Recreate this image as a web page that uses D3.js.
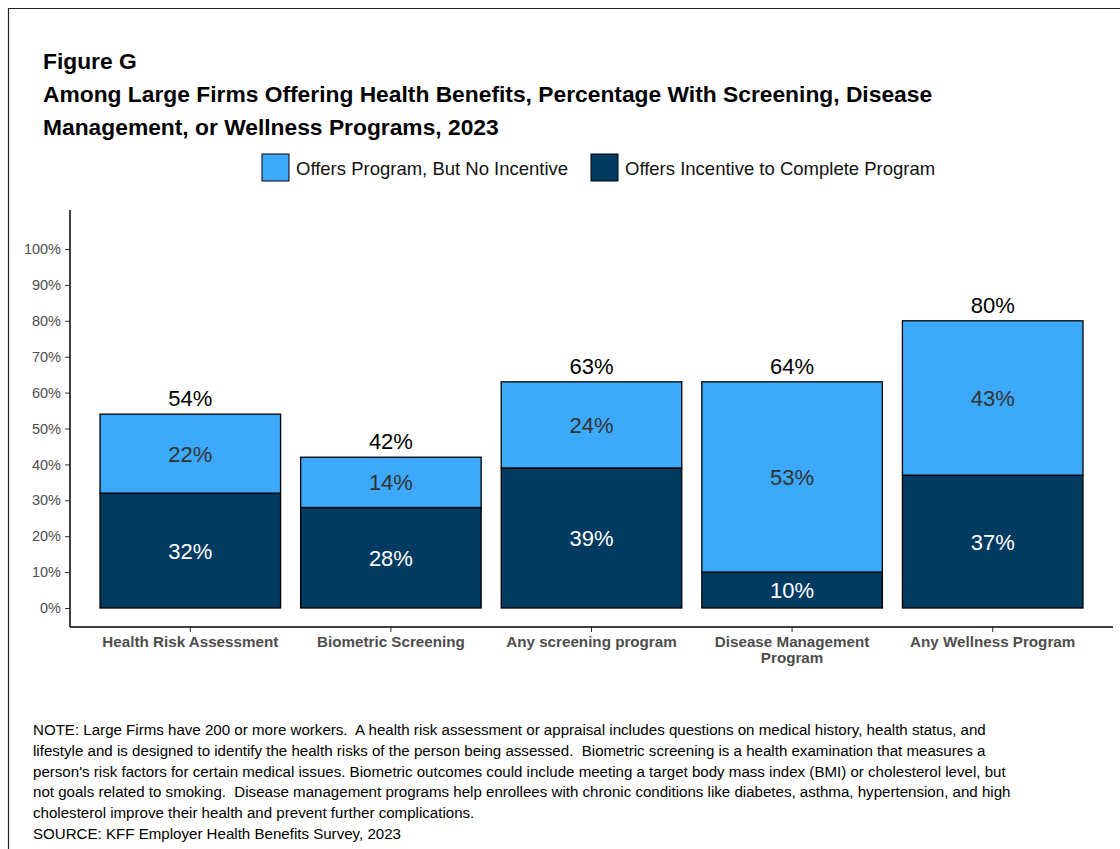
<!DOCTYPE html>
<html>
<head>
<meta charset="utf-8">
<script src="https://cdn.jsdelivr.net/npm/d3@7"></script>
<style>
  body { margin: 0; background: #fff; }
  text { font-family: Arial, "Liberation Sans", sans-serif; white-space: pre; }
</style>
</head>
<body>
<div id="chart"></div>
<script>
var categories = ["Health Risk Assessment", "Biometric Screening", "Any screening program", "Disease Management Program", "Any Wellness Program"];
var incentive = [32, 28, 39, 10, 37];
var noIncentive = [22, 14, 24, 53, 43];
var totals = [54, 42, 63, 64, 80];
var seriesNames = ["Offers Program, But No Incentive", "Offers Incentive to Complete Program"];
var yTicks = [0, 10, 20, 30, 40, 50, 60, 70, 80, 90, 100];

var titleLines = ["Figure G",
    "Among Large Firms Offering Health Benefits, Percentage With Screening, Disease",
    "Management, or Wellness Programs, 2023"];
var noteLines = [
    "NOTE: Large Firms have 200 or more workers.  A health risk assessment or appraisal includes questions on medical history, health status, and",
    "lifestyle and is designed to identify the health risks of the person being assessed.  Biometric screening is a health examination that measures a",
    "person's risk factors for certain medical issues. Biometric outcomes could include meeting a target body mass index (BMI) or cholesterol level, but",
    "not goals related to smoking.  Disease management programs help enrollees with chronic conditions like diabetes, asthma, hypertension, and high",
    "cholesterol improve their health and prevent further complications.",
    "SOURCE: KFF Employer Health Benefits Survey, 2023"];

var lightBlue = "#3ca9fb",
    darkBlue = "#023b62";

var width = 1120, height = 849;

var svg = d3.select("#chart").append("svg")
    .attr("width", width)
    .attr("height", height);

// frame
svg.append("path")
    .attr("d", "M8.5," + height + "V8.5H" + width)
    .attr("fill", "none")
    .attr("stroke", "#222")
    .attr("stroke-width", 1.2);

// title
svg.append("g").selectAll("text")
    .data(titleLines)
    .join("text")
    .attr("x", 43)
    .attr("y", function(d, i) { return 69 + i * 33; })
    .attr("font-size", 22.8)
    .attr("font-weight", "bold")
    .attr("fill", "#000")
    .text(function(d) { return d; });

// legend
var legendX = [262, 591];
var legend = svg.append("g").selectAll("g")
    .data(seriesNames)
    .join("g")
    .attr("transform", function(d, i) { return "translate(" + legendX[i] + ",154)"; });
legend.append("rect")
    .attr("width", 27).attr("height", 27)
    .attr("fill", function(d, i) { return i == 0 ? lightBlue : darkBlue; })
    .attr("stroke", "#000").attr("stroke-width", 1);
legend.append("text")
    .attr("x", 34).attr("y", 21)
    .attr("font-size", 18.5)
    .attr("fill", "#111")
    .text(function(d) { return d; });

// scales
var x = d3.scaleBand()
    .domain(categories)
    .range([90, 1093])
    .paddingInner(0.1)
    .paddingOuter(0.05);

var y = d3.scaleLinear()
    .domain([0, 100])
    .range([608, 249]);

var axisBottom = 627, axisLeft = 70;

// y axis
var yAxis = svg.append("g")
    .attr("transform", "translate(" + axisLeft + ",0)")
    .call(d3.axisLeft(y).tickValues(yTicks).tickFormat(function(d) { return d + "%"; }).tickSize(5).tickPadding(4));
yAxis.select(".domain").remove();
yAxis.selectAll("text").attr("font-size", 14.5).attr("fill", "#4d4d4d").attr("font-family", "Arial, 'Liberation Sans', sans-serif");
yAxis.selectAll("line").attr("stroke", "#333");
svg.append("line")
    .attr("x1", axisLeft).attr("x2", axisLeft)
    .attr("y1", 210).attr("y2", axisBottom)
    .attr("stroke", "#000").attr("stroke-width", 1.5);

// x axis
var xAxis = svg.append("g")
    .attr("transform", "translate(0," + axisBottom + ")")
    .call(d3.axisBottom(x).tickSize(5).tickPadding(4));
xAxis.select(".domain").remove();
xAxis.selectAll("line").attr("stroke", "#333");
xAxis.selectAll("text").remove();
svg.append("line")
    .attr("x1", axisLeft).attr("x2", 1113)
    .attr("y1", axisBottom).attr("y2", axisBottom)
    .attr("stroke", "#000").attr("stroke-width", 1.5);

// category labels (wrap long one)
var catLabels = svg.append("g").selectAll("text")
    .data(categories)
    .join("text")
    .attr("x", function(d) { return x(d) + x.bandwidth() / 2; })
    .attr("y", 647)
    .attr("text-anchor", "middle")
    .attr("font-size", 15.2)
    .attr("font-weight", "bold")
    .attr("fill", "#4d4d4d");
catLabels.each(function(d) {
    var t = d3.select(this);
    var lines = d == "Disease Management Program" ? ["Disease Management", "Program"] : [d];
    lines.forEach(function(l, i) {
        t.append("tspan").attr("x", x(d) + x.bandwidth() / 2).attr("dy", i == 0 ? 0 : 16).text(l);
    });
});

// stacked bars
var bars = svg.append("g");
categories.forEach(function(c, i) {
    var x0 = x(c), w = x.bandwidth(), cx = x0 + w / 2;
    var lo = incentive[i], hi = incentive[i] + noIncentive[i];
    bars.append("rect")
        .attr("x", x0).attr("y", y(lo))
        .attr("width", w).attr("height", y(0) - y(lo))
        .attr("fill", darkBlue).attr("stroke", "#000").attr("stroke-width", 1.3);
    bars.append("rect")
        .attr("x", x0).attr("y", y(hi))
        .attr("width", w).attr("height", y(lo) - y(hi))
        .attr("fill", lightBlue).attr("stroke", "#000").attr("stroke-width", 1.3);
    bars.append("text")
        .attr("x", cx).attr("y", (y(0) + y(lo)) / 2 + 8)
        .attr("text-anchor", "middle").attr("font-size", 22)
        .attr("fill", "#fff")
        .text(incentive[i] + "%");
    bars.append("text")
        .attr("x", cx).attr("y", (y(lo) + y(hi)) / 2 + 8)
        .attr("text-anchor", "middle").attr("font-size", 22)
        .attr("fill", "#333")
        .text(noIncentive[i] + "%");
    bars.append("text")
        .attr("x", cx).attr("y", y(hi) - 8)
        .attr("text-anchor", "middle").attr("font-size", 22)
        .attr("fill", "#000")
        .text(totals[i] + "%");
});

// notes
svg.append("g").selectAll("text")
    .data(noteLines)
    .join("text")
    .attr("x", 33)
    .attr("y", function(d, i) { return 735 + i * 20.8; })
    .attr("font-size", 15.1)
    .attr("fill", "#000")
    .text(function(d) { return d; });
</script>
</body>
</html>
